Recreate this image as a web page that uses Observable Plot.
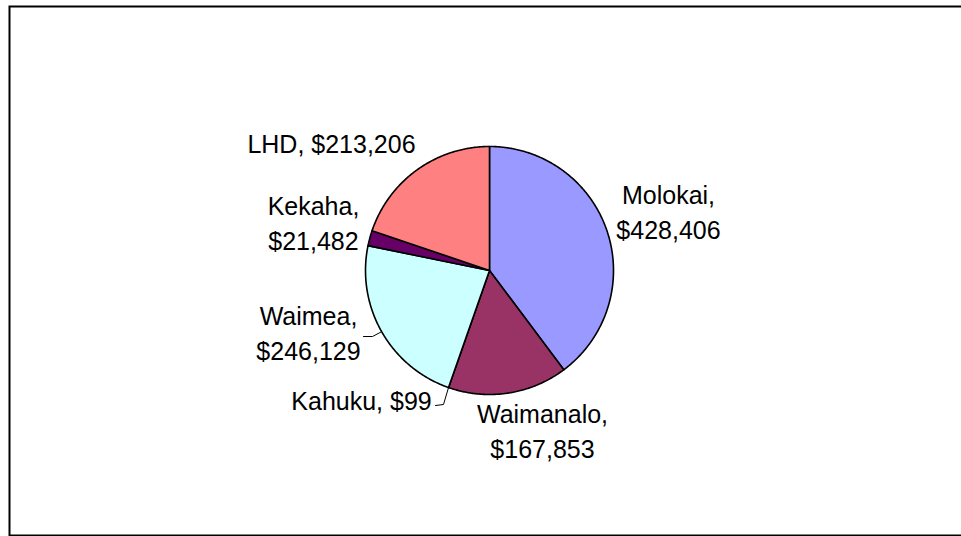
<!DOCTYPE html>
<html>
<head>
<meta charset="utf-8">
<script src="https://cdn.jsdelivr.net/npm/d3@7"></script>
<script src="https://cdn.jsdelivr.net/npm/@observablehq/plot@0.6"></script>
<style>
  html, body { margin: 0; padding: 0; background: #fff; }
</style>
</head>
<body>
<div id="chart"></div>
<script>
// ---- data ----
const categories = ["Molokai", "Waimanalo", "Kahuku", "Waimea", "Kekaha", "LHD"];
const values = [428406, 167853, 99, 246129, 21482, 213206];
const colors = ["#9999FF", "#993366", "#FFFFCC", "#CCFFFF", "#660066", "#FF8080"];

// ---- label layout (pixel offsets from pie centre, y down) ----
const labelLayout = [
  {dx: 179, dy: -60, twoLines: true},
  {dx: 53, dy: 159, twoLines: true},
  {dx: -128, dy: 128, twoLines: false, leader: [[-54, 135], [-46, 134]]},
  {dx: -181, dy: 61, twoLines: true, leader: [[-126, 66], [-117, 66]]},
  {dx: -176, dy: -49, twoLines: true},
  {dx: -158, dy: -129, twoLines: false}
];

const R = 124;            // pie radius in px (scale unit)
const fmt = d3.format("$,");
const total = d3.sum(values);

// slice polygons in unit coordinates (angle clockwise from 12 o'clock, y up)
const slicePts = [];
const labels = [];
const leaders = [];
let acc = 0;
categories.forEach((name, i) => {
  const a0 = acc / total * 2 * Math.PI;
  acc += values[i];
  const a1 = acc / total * 2 * Math.PI;
  const n = Math.max(2, Math.ceil((a1 - a0) / (Math.PI / 360)));
  slicePts.push({name, x: 0, y: 0});
  for (let k = 0; k <= n; k++) {
    const a = a0 + (a1 - a0) * k / n;
    slicePts.push({name, x: Math.sin(a), y: Math.cos(a)});
  }
  slicePts.push({name, x: 0, y: 0});
  const L = labelLayout[i];
  labels.push({
    x: L.dx / R, y: -L.dy / R,
    text: name + "," + (L.twoLines ? "\n" : " ") + fmt(values[i])
  });
  if (L.leader) {
    const am = (a0 + a1) / 2;
    L.leader.forEach(p => leaders.push({name, x: p[0] / R, y: -p[1] / R}));
    leaders.push({name, x: Math.sin(am), y: Math.cos(am)});
  }
});

const W = 961, H = 536;
const mL = 9, mT = 6, mR = 0, mB = 1;
const cx = 489, cy = 270;

const chart = Plot.plot({
  width: W, height: H,
  marginLeft: mL, marginTop: mT, marginRight: mR, marginBottom: mB,
  x: {axis: null, domain: [-(cx - mL) / R, (W - mR - cx) / R]},
  y: {axis: null, domain: [-(H - mB - cy) / R, (cy - mT) / R]},
  color: {domain: categories, range: colors},
  marks: [
    Plot.frame({stroke: "black", strokeWidth: 2, insetRight: -20}),
    Plot.line(slicePts, {x: "x", y: "y", z: "name", fill: "name", stroke: "black", strokeWidth: 1.6, strokeLinejoin: "round"}),
    Plot.line(leaders, {x: "x", y: "y", z: "name", stroke: "black", strokeWidth: 1}),
    Plot.text(labels, {x: "x", y: "y", text: "text", fontSize: 25, lineHeight: 1.38,
      textAnchor: "middle", fill: "black", fontFamily: "Liberation Sans, Arial, sans-serif"})
  ]
});
document.getElementById("chart").appendChild(chart);
</script>
</body>
</html>
